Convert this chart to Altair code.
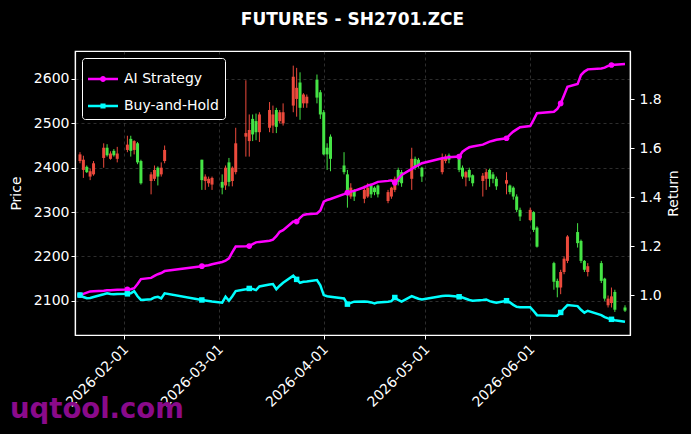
import altair as alt
import pandas as pd

# ---------------- data ----------------
dates = [
    "2026-01-19", "2026-01-20", "2026-01-21", "2026-01-22", "2026-01-23",
    "2026-01-26", "2026-01-27", "2026-01-28", "2026-01-29", "2026-01-30",
    "2026-02-02", "2026-02-03", "2026-02-04", "2026-02-05", "2026-02-06",
    "2026-02-09", "2026-02-10", "2026-02-11", "2026-02-12", "2026-02-13",
    "2026-02-24", "2026-02-25", "2026-02-26", "2026-02-27",
    "2026-03-02", "2026-03-03", "2026-03-04", "2026-03-05", "2026-03-06",
    "2026-03-09", "2026-03-10", "2026-03-11", "2026-03-12", "2026-03-13",
    "2026-03-16", "2026-03-17", "2026-03-18", "2026-03-19", "2026-03-20",
    "2026-03-23", "2026-03-24", "2026-03-25", "2026-03-26", "2026-03-27",
    "2026-03-30", "2026-03-31", "2026-04-01", "2026-04-02", "2026-04-03",
    "2026-04-07", "2026-04-08", "2026-04-09", "2026-04-10",
    "2026-04-13", "2026-04-14", "2026-04-15", "2026-04-16", "2026-04-17",
    "2026-04-20", "2026-04-21", "2026-04-22", "2026-04-23", "2026-04-24",
    "2026-04-27", "2026-04-28", "2026-04-29", "2026-04-30",
    "2026-05-06", "2026-05-07", "2026-05-08",
    "2026-05-11", "2026-05-12", "2026-05-13", "2026-05-14", "2026-05-15",
    "2026-05-18", "2026-05-19", "2026-05-20", "2026-05-21", "2026-05-22",
    "2026-05-25", "2026-05-26", "2026-05-27", "2026-05-28", "2026-05-29",
    "2026-06-01", "2026-06-02", "2026-06-03",
    "2026-06-08", "2026-06-09", "2026-06-10", "2026-06-11", "2026-06-12",
    "2026-06-15", "2026-06-16", "2026-06-17", "2026-06-18",
    "2026-06-22", "2026-06-23", "2026-06-24", "2026-06-25", "2026-06-26",
    "2026-06-29",
]

opens = [
    2415, 2395, 2402, 2380, 2385,
    2422, 2445, 2420, 2438, 2420,
    2440, 2465, 2440, 2455, 2415,
    2370, 2375, 2400, 2385, 2415,
    2418, 2370, 2365, 2362,
    2368, 2360, 2412, 2370, 2390,
    2470, 2460, 2510, 2505, 2480,
    2490, 2495, 2530, 2505, 2500,
    2540, 2555, 2592, 2545, 2545,
    2598, 2570, 2525, 2445, 2470,
    2405, 2385, 2335, 2350,
    2330, 2335, 2360, 2355, 2360,
    2325, 2335, 2350, 2395, 2390,
    2375, 2420, 2418, 2400,
    2390, 2415, 2428,
    2420, 2400, 2378, 2395, 2383,
    2370, 2375, 2395, 2385, 2375,
    2364, 2360, 2355, 2335, 2305,
    2282, 2300, 2265,
    2185, 2145, 2130, 2165, 2190,
    2255, 2235, 2190, 2165,
    2185, 2150, 2090, 2095, 2120,
    2085,
]
highs = [
    2435, 2427, 2405, 2398, 2415,
    2455, 2453, 2437, 2442, 2447,
    2472, 2472, 2462, 2458, 2418,
    2390, 2405, 2403, 2412, 2450,
    2418, 2385, 2380, 2380,
    2385, 2405, 2422, 2403, 2490,
    2597, 2520, 2520, 2522, 2525,
    2548, 2540, 2535, 2530, 2545,
    2630, 2625, 2615, 2568, 2565,
    2610, 2575, 2530, 2455, 2475,
    2435, 2395, 2365, 2352,
    2360, 2365, 2365, 2358, 2362,
    2350, 2357, 2380, 2400, 2395,
    2445, 2425, 2422, 2402,
    2432, 2430, 2432,
    2425, 2405, 2393, 2400, 2385,
    2388, 2397, 2398, 2390, 2380,
    2390, 2362, 2358, 2340, 2310,
    2310, 2302, 2268,
    2188, 2150, 2170, 2200, 2248,
    2275, 2238, 2192, 2185,
    2190, 2152, 2112, 2130, 2125,
    2090,
]
lows = [
    2410, 2377, 2388, 2372, 2382,
    2400, 2425, 2418, 2425, 2412,
    2435, 2425, 2430, 2408, 2362,
    2340, 2370, 2360, 2380, 2410,
    2350, 2350, 2357, 2350,
    2340, 2350, 2358, 2358, 2385,
    2425, 2425, 2460, 2462, 2458,
    2480, 2478, 2478, 2500, 2495,
    2525, 2515, 2508, 2535, 2535,
    2545, 2510, 2428, 2395, 2392,
    2385, 2310, 2330, 2325,
    2320, 2332, 2332, 2338, 2333,
    2320, 2330, 2345, 2360, 2357,
    2350, 2395, 2400, 2368,
    2385, 2410, 2410,
    2390, 2375, 2358, 2370, 2358,
    2335, 2350, 2357, 2365, 2350,
    2340, 2340, 2328, 2300, 2280,
    2280, 2255, 2220,
    2125, 2108, 2115, 2160, 2185,
    2220, 2185, 2165, 2155,
    2140, 2100, 2085, 2085, 2075,
    2075,
]
closes = [
    2430, 2418, 2390, 2392, 2410,
    2445, 2428, 2432, 2428, 2432,
    2452, 2438, 2460, 2412, 2365,
    2385, 2395, 2380, 2400, 2440,
    2372, 2380, 2375, 2377,
    2355, 2400, 2368, 2400, 2455,
    2478, 2485, 2475, 2480, 2520,
    2530, 2520, 2492, 2525, 2525,
    2605, 2580, 2535, 2565, 2560,
    2558, 2520, 2430, 2430, 2420,
    2390, 2345, 2355, 2335,
    2350, 2355, 2340, 2345, 2340,
    2345, 2355, 2375, 2368, 2365,
    2420, 2400, 2405, 2380,
    2420, 2425, 2418,
    2395, 2380, 2390, 2378, 2365,
    2382, 2390, 2375, 2375, 2358,
    2372, 2345, 2335, 2305, 2290,
    2305, 2260, 2222,
    2143, 2130, 2165, 2195, 2245,
    2230, 2190, 2170, 2178,
    2145, 2105, 2105, 2110, 2080,
    2078,
]

ai_strategy = [
    1.000, 1.005, 1.010, 1.015, 1.016,
    1.018, 1.020, 1.020, 1.021, 1.022,
    1.023, 1.024, 1.028, 1.045, 1.065,
    1.070, 1.078, 1.085, 1.090, 1.098,
    1.118, 1.120, 1.122, 1.126,
    1.135, 1.140, 1.150, 1.175, 1.198,
    1.199, 1.200, 1.208, 1.215, 1.217,
    1.222, 1.226, 1.240, 1.258, 1.265,
    1.300, 1.300, 1.315, 1.327, 1.330,
    1.333, 1.345, 1.381, 1.388, 1.392,
    1.412, 1.418, 1.422, 1.425,
    1.440, 1.447, 1.450, 1.456, 1.462,
    1.466, 1.468, 1.458, 1.475, 1.490,
    1.515, 1.524, 1.530, 1.538,
    1.558, 1.560, 1.562,
    1.565, 1.585, 1.595, 1.603, 1.606,
    1.614, 1.620, 1.626, 1.630, 1.634,
    1.640, 1.655, 1.667, 1.676, 1.685,
    1.690, 1.715, 1.742,
    1.748, 1.760, 1.782, 1.815, 1.850,
    1.861, 1.898, 1.912, 1.921,
    1.925, 1.928, 1.935, 1.939, 1.940,
    1.943,
]
buy_and_hold = [
    1.000, 0.992, 0.987, 0.988, 0.992,
    1.003, 1.007, 1.004, 1.003, 1.004,
    1.005, 1.007, 1.016, 0.995, 0.980,
    0.983, 0.990, 0.993, 0.986, 1.007,
    0.980, 0.978, 0.976, 0.974,
    0.969, 0.993, 0.977, 0.995, 1.016,
    1.024, 1.027, 1.025, 1.020, 1.035,
    1.043, 1.045, 1.024, 1.038, 1.050,
    1.079, 1.064, 1.050, 1.054, 1.055,
    1.061, 1.040, 1.000, 0.995, 0.993,
    0.986, 0.963, 0.968, 0.973,
    0.974, 0.973, 0.970, 0.966, 0.970,
    0.973, 0.975, 0.990, 0.980, 0.973,
    0.996, 0.990, 0.985, 0.982,
    0.996, 0.997, 0.997,
    0.993, 0.990, 0.985, 0.980, 0.977,
    0.980, 0.982, 0.975, 0.972, 0.969,
    0.977, 0.970, 0.960, 0.952, 0.950,
    0.950, 0.935, 0.918,
    0.916, 0.916, 0.929, 0.945, 0.959,
    0.955, 0.940, 0.928, 0.936,
    0.918, 0.910, 0.905, 0.901, 0.897,
    0.891,
]

series_names = ["AI Strategy", "Buy-and-Hold"]
series_colors = ["#ff00ff", "#00ffff"]
price_ticks = [2100, 2200, 2300, 2400, 2500, 2600]
return_ticks = [1.0, 1.2, 1.4, 1.6, 1.8]
month_ticks = [(2026, 2, 1), (2026, 3, 1), (2026, 4, 1), (2026, 5, 1), (2026, 6, 1)]
title_text = "FUTURES - SH2701.ZCE"
watermark = "uqtool.com"

# ---------------- tables ----------------
dt = pd.to_datetime(dates)
candles = pd.DataFrame({"date": dt, "open": opens, "high": highs,
                        "low": lows, "close": closes})
n = len(dates)
returns = pd.concat([
    pd.DataFrame({"date": dt, "series": series_names[0], "value": ai_strategy,
                  "idx": list(range(n))}),
    pd.DataFrame({"date": dt, "series": series_names[1], "value": buy_and_hold,
                  "idx": list(range(n))}),
], ignore_index=True)

UP = "#ec4a3c"
DOWN = "#45e445"
FONT = "DejaVu Sans"
FS = 14
GRID = dict(gridColor="#8a8a8a", gridDash=[3, 3], gridWidth=0.6, gridOpacity=0.55)

x_scale = alt.Scale(domain=[alt.DateTime(year=2026, month=1, date=19),
                            alt.DateTime(year=2026, month=6, date=29)])
x_axis = alt.Axis(values=[alt.DateTime(year=y, month=m, date=d) for y, m, d in month_ticks],
                  format="%Y-%m-%d", labelAngle=-45, title=None, grid=True,
                  labelAlign="right", labelBaseline="top", labelPadding=3,
                  labelOffset=-3, **GRID)
price_scale = alt.Scale(domain=[2023, 2663], nice=False, zero=False)
ret_scale = alt.Scale(domain=[0.837, 1.996], nice=False, zero=False)
candle_color = alt.condition("datum.close >= datum.open", alt.value(UP), alt.value(DOWN))

base_c = alt.Chart(candles)
wicks = base_c.mark_rule(strokeWidth=1, clip=True).encode(
    x=alt.X("date:T", scale=x_scale, axis=x_axis),
    y=alt.Y("low:Q", scale=price_scale,
            axis=alt.Axis(values=price_ticks, format="d", title="Price", grid=True,
                          orient="left", titlePadding=10, **GRID)),
    y2="high:Q",
    color=candle_color,
)
bodies = base_c.mark_bar(size=3, clip=True).encode(
    x=alt.X("date:T", scale=x_scale),
    y=alt.Y("open:Q", scale=price_scale),
    y2="close:Q",
    color=candle_color,
)
price_layer = alt.layer(wicks, bodies)

# legend symbols: a line with a round / square marker on it
ai_path = ("M-1,-0.08L1,-0.08L1,0.08L-1,0.08Z"
           "M-0.2,0A0.2,0.2,0,1,1,0.2,0A0.2,0.2,0,1,1,-0.2,0Z")
bh_path = ("M-1,-0.08L1,-0.08L1,0.08L-1,0.08Z"
           "M-0.17,-0.17L0.17,-0.17L0.17,0.17L-0.17,0.17Z")
color_scale = alt.Scale(domain=series_names, range=series_colors)

base_r = alt.Chart(returns)
ret_y_axis = alt.Axis(values=return_ticks, format=".1f", title="Return",
                      orient="right", grid=False, labelPadding=5,
                      titlePadding=19, titleAngle=270)

def series_line(i):
    return base_r.transform_filter(
        f"datum.series == '{series_names[i]}'"
    ).mark_line(strokeWidth=2.5, clip=True, color=series_colors[i]).encode(
        x=alt.X("date:T", scale=x_scale),
        y=alt.Y("value:Q", scale=ret_scale, axis=ret_y_axis),
    )

def series_markers(i, shape, size):
    return base_r.transform_filter(
        f"datum.idx % 10 == 0 && datum.series == '{series_names[i]}'"
    ).mark_point(filled=True, size=size, opacity=1, shape=shape, clip=True,
                 color=series_colors[i]).encode(
        x=alt.X("date:T", scale=x_scale),
        y=alt.Y("value:Q", scale=ret_scale, axis=ret_y_axis))

leg = dict(title=None, orient="top-left", offset=7, fillColor="black",
           strokeColor="white", cornerRadius=3, padding=6, labelColor="white",
           labelFontSize=FS, labelFont=FONT, symbolSize=900, symbolStrokeWidth=0,
           rowPadding=5, labelOffset=6)
legend_layer = base_r.mark_point(filled=True, opacity=1, size=0).encode(
    color=alt.Color("series:N", scale=color_scale, legend=alt.Legend(**leg)),
    shape=alt.Shape("series:N", scale=alt.Scale(domain=series_names,
                                                range=[ai_path, bh_path]),
                    legend=alt.Legend(**leg)),
    x=alt.value(0), y=alt.value(0),
)
ret_layer = alt.layer(series_line(0), series_line(1),
                      series_markers(0, "circle", 32),
                      series_markers(1, "square", 30), legend_layer)

wm = alt.Chart(pd.DataFrame({"t": [watermark]})).mark_text(
    align="left", baseline="alphabetic", fontSize=27.5, fontWeight="bold",
    font=FONT, color="#8a0a8a").encode(
    text="t:N", x=alt.value(-65), y=alt.value(367))

chart = alt.layer(price_layer, ret_layer, wm).resolve_scale(
    y="independent"
).properties(
    width=555, height=284,
    title=alt.TitleParams(title_text, color="white", fontSize=17,
                          fontWeight="bold", font=FONT, anchor="middle", offset=22),
    background="black",
    autosize=alt.AutoSizeParams(type="none"),
    padding={"left": 75, "top": 51, "right": 61, "bottom": 99},
).configure_view(
    stroke="white", strokeWidth=1.2, fill="black"
).configure_axis(
    domainColor="white", tickColor="white", labelColor="white", titleColor="white",
    labelFont=FONT, titleFont=FONT, labelFontSize=FS, titleFontSize=FS,
    titleFontWeight="normal", tickSize=4, domainWidth=1.2,
)

chart.save("out.html", embed_options={"renderer": "svg", "actions": False})
